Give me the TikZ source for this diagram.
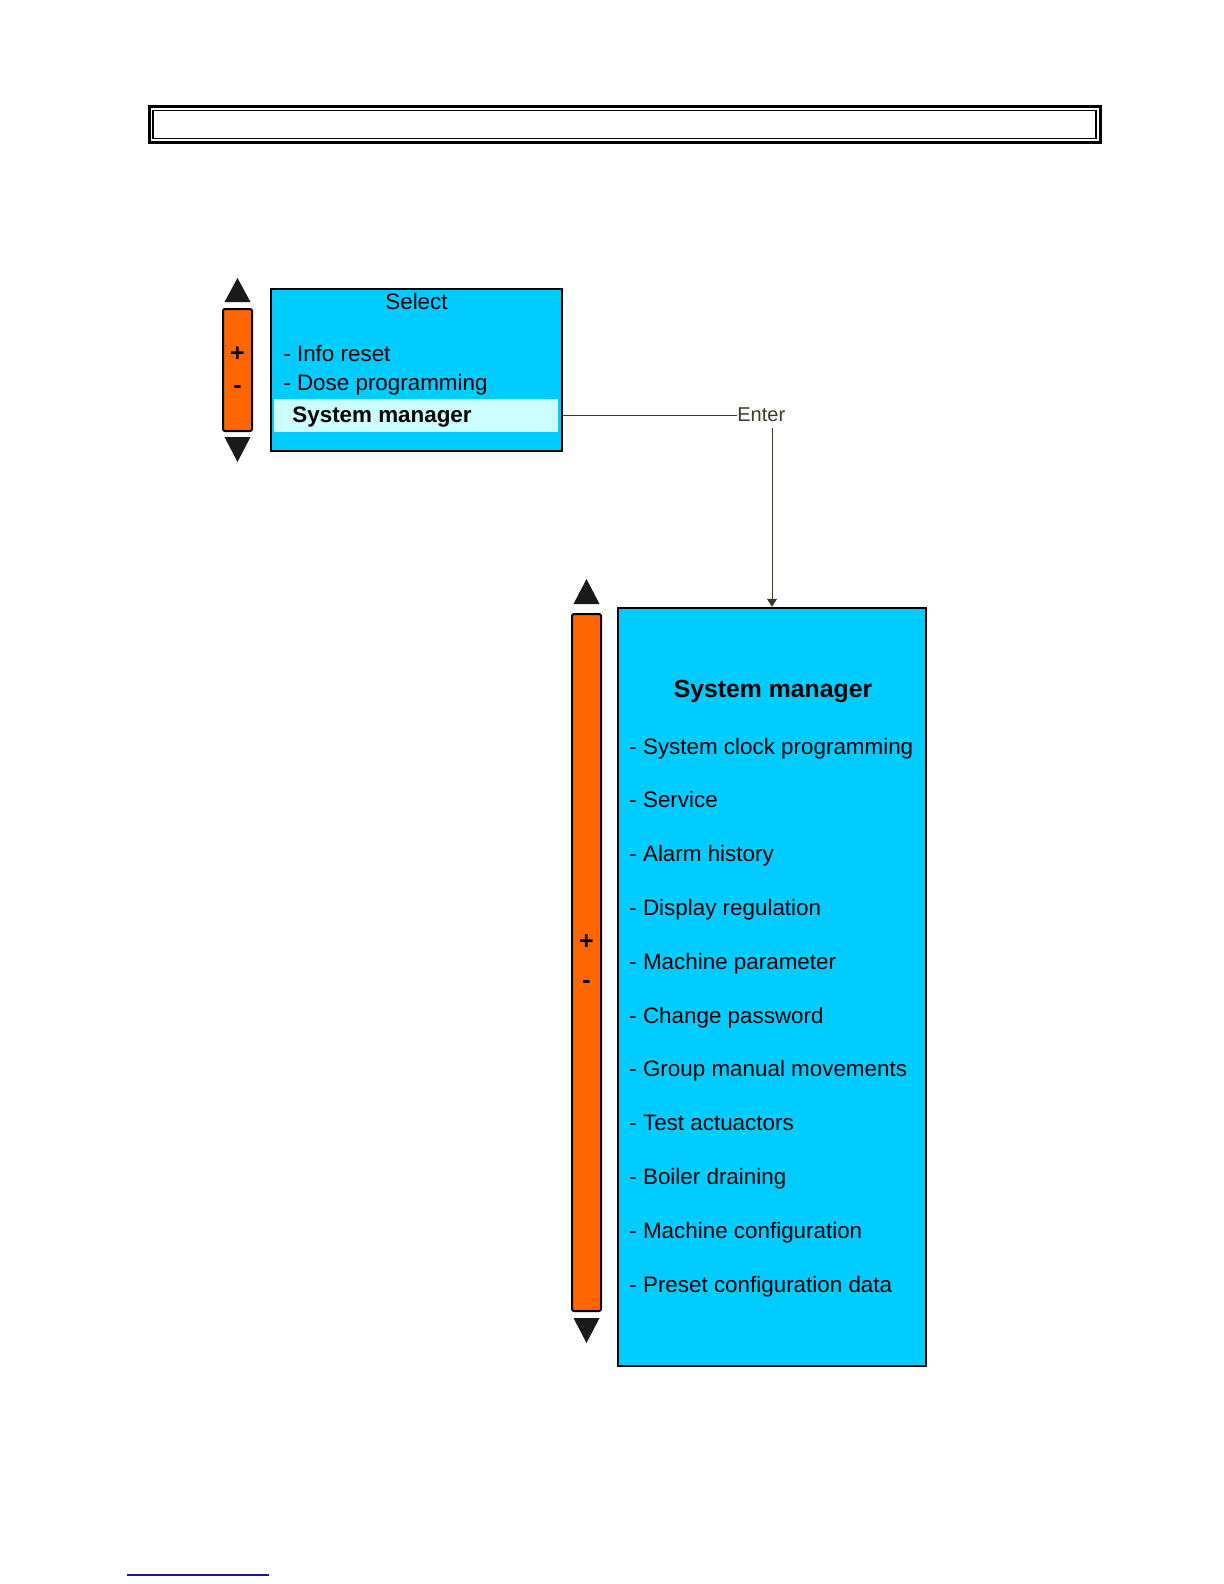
\documentclass[tikz,border=0pt]{standalone}
\usepackage{fontspec}
\setmainfont{Liberation Sans}
\definecolor{ScreenCyan}{RGB}{0, 204, 255}
\definecolor{RowLight}{RGB}{204, 255, 255}
\definecolor{KeyOrange}{RGB}{255, 102, 0}
\definecolor{LinkGray}{RGB}{58, 58, 44}
\definecolor{RuleNavy}{RGB}{26, 26, 140}
\usepackage{tikz}
\usetikzlibrary{arrows.meta, positioning, calc}

\begin{document}
\begin{tikzpicture}[x=0.5pt, y=-0.5pt,
  every node/.style={font=\fontsize{11.2pt}{13pt}\selectfont, inner sep=0pt},
  screen/.style={draw=black, fill=ScreenCyan, line width=1.1pt},
  keybar/.style={draw=black, fill=KeyOrange, line width=1pt, rounded corners=1pt,
                 minimum width=14.5pt},
  keysign/.style={anchor=base, font=\fontsize{12.5pt}{14pt}\selectfont\bfseries},
  keytip/.style={fill=black!90},
  link/.style={draw=LinkGray, line width=0.5pt}]
\useasboundingbox (0,0) rectangle (1224,1584);

% header frame
\node[draw, line width=1.5pt, minimum width=475.5pt, minimum height=17.5pt] (headbar) at (624.5,124.5) {};
\node[draw, line width=0.7pt, minimum width=471.5pt, minimum height=14pt] (headin) at (headbar) {};

% first screen
\node[screen, minimum width=145.5pt, minimum height=81pt] (selbox) at (416.5,370) {};
\node[fill=RowLight, minimum width=142pt, minimum height=16.5pt] (selrow) at (416,415.5) {};
\node[anchor=base] (seltitle) at (416.5,309) {Select};
\node[anchor=base west] (selinfo) at (283,361.5) {- Info reset};
\node[anchor=base west] (seldose) at (283,390) {- Dose programming};
\node[anchor=base west, font=\fontsize{11.2pt}{13pt}\selectfont\bfseries] (selsys) at (292,422) {System manager};

\node[keybar, minimum height=61pt] (selbar) at (237.5,370) {};
\node[keysign] at (237.5,361) {+};
\node[keysign] at (237.5,393) {-};
\fill[keytip] ($(selbar.north)+(-13,-6)$) -- ++(26,0) -- ++(-13,-24) -- cycle;
\fill[keytip] ($(selbar.south)+(-13,5)$) -- ++(26,0) -- ++(-13,25) -- cycle;

% enter link
\node[anchor=west, inner ysep=3pt, text=LinkGray, font=\fontsize{10pt}{12pt}\selectfont] (enter) at (737,415) {Enter};
\draw[link] (selbox.east |- enter.west) -- (enter.west);

% second screen
\node[screen, line width=1.2pt, minimum width=154pt, minimum height=379pt] (sysbox) at (772,987) {};
\draw[link, -{Triangle[length=4pt, width=5pt]}] (enter.south -| sysbox.north) -- (sysbox.north);
\node[anchor=base, font=\fontsize{12.4pt}{14pt}\selectfont\bfseries] (systitle) at (773,697) {System manager};
\foreach \item [count=\i] in {System clock programming, Service, Alarm history,
    Display regulation, Machine parameter, Change password, Group manual movements,
    Test actuactors, Boiler draining, Machine configuration, Preset configuration data}
  \node[anchor=base west] (sysitem\i) at (629,{754+53.8*(\i-1)}) {- \item};

\node[keybar, minimum height=348.5pt] (sysbar) at (586.5,962.5) {};
\node[keysign] at (586.5,949) {+};
\node[keysign] at (586.5,988) {-};
\fill[keytip] ($(sysbar.north)+(-13,-9)$) -- ++(26,0) -- ++(-13,-25) -- cycle;
\fill[keytip] ($(sysbar.south)+(-13,6)$) -- ++(26,0) -- ++(-13,25) -- cycle;

% footnote rule
\draw[RuleNavy, line width=0.7pt] (127,1575) -- (269,1575);
\end{tikzpicture}
\end{document}
